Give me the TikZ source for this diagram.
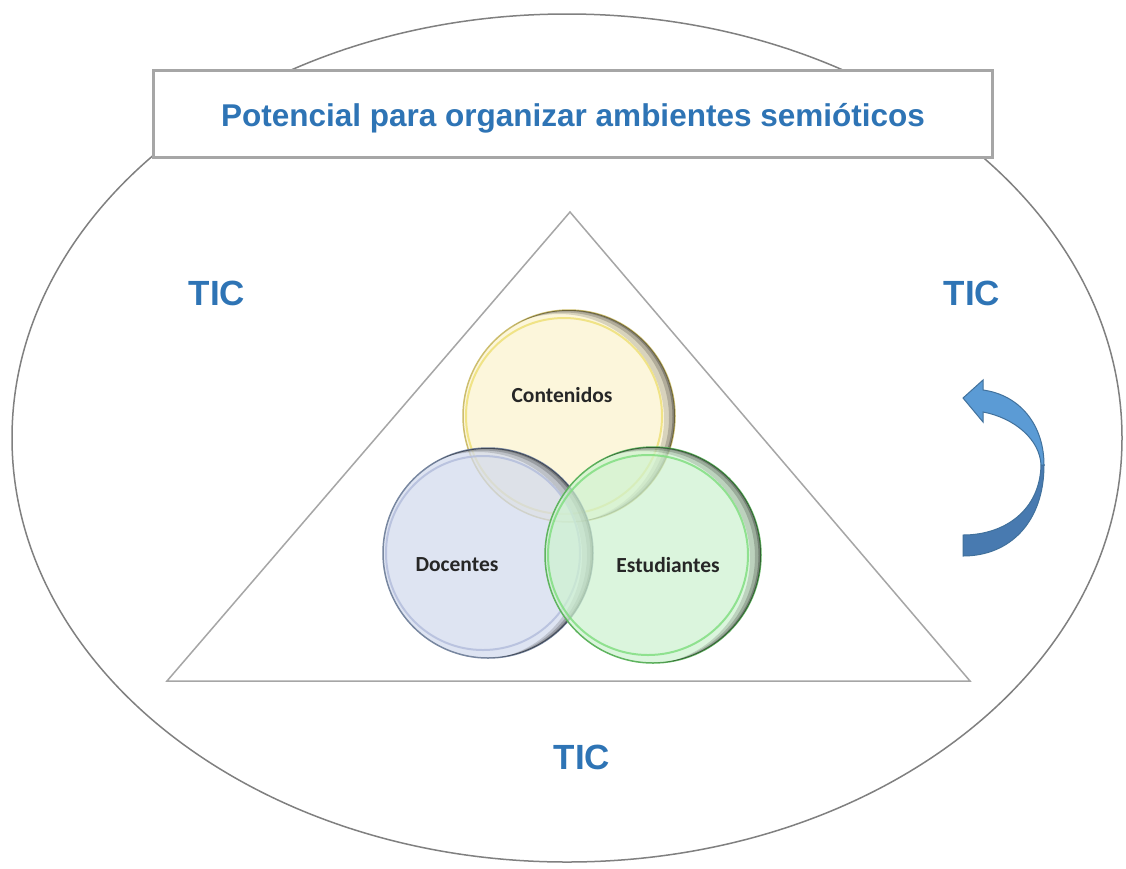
\documentclass[tikz,border=0pt]{standalone}
\usepackage{fontspec}
\setmainfont{Liberation Sans}
\newfontfamily\calib{Carlito}
\usetikzlibrary{shapes.geometric}
\definecolor{ticblue}{RGB}{46,116,181}
\definecolor{ellgray}{RGB}{128,128,128}
\definecolor{boxgray}{RGB}{166,166,166}
\definecolor{trigray}{RGB}{166,166,166}
\definecolor{yfill}{RGB}{252,243,206}
\definecolor{yring}{RGB}{238,224,120}
\definecolor{yedge}{RGB}{205,190,110}
\definecolor{bfill}{RGB}{210,218,238}
\definecolor{bring}{RGB}{180,190,220}
\definecolor{bedge}{RGB}{120,135,160}
\definecolor{gfill}{RGB}{206,242,208}
\definecolor{gring}{RGB}{130,222,130}
\definecolor{gedge}{RGB}{95,180,95}
\definecolor{arrlight}{RGB}{91,155,213}
\definecolor{arrdark}{RGB}{72,122,176}
\definecolor{arredge}{RGB}{65,113,156}
\tikzset{
  tic/.style={text=ticblue, font=\fontsize{35}{40}\selectfont\bfseries, inner sep=0},
  venn/.style={circle, inner sep=0, fill opacity=0.72, line width=1.5pt},
  vlabel/.style={font=\calib\fontsize{21.5}{25}\selectfont\bfseries, text=black!85, inner sep=0},
}
% crescent shading: #1 node name, #2 radius
\newcommand\vennshade[2]{%
  \begin{scope}
    \clip (#1.center) circle[radius=#2];
    \fill[black, opacity=0.14, even odd rule] (#1.center) circle[radius=#2+1] ([shift={(-10,-3)}]#1.center) circle[radius=#2-1];
    \fill[black, opacity=0.18, even odd rule] (#1.center) circle[radius=#2+1] ([shift={(-5,-1.5)}]#1.center) circle[radius=#2-1];
    \fill[black, opacity=0.25, even odd rule] (#1.center) circle[radius=#2+1] ([shift={(-2,-0.5)}]#1.center) circle[radius=#2-0.5];
  \end{scope}}
\begin{document}
\begin{tikzpicture}[x=1pt,y=1pt]
\useasboundingbox (0,0) rectangle (1126,-868);
\fill[white] (0,0) rectangle (1126,-868);
% outer oval
\node[ellipse, draw=ellgray, line width=1.5pt, minimum width=1110pt, minimum height=848pt, inner sep=0] (oval) at (567,-438) {};
% title box
\node[draw=boxgray, line width=3pt, fill=white, minimum width=839pt, minimum height=87pt, inner sep=0] (title) at (572.5,-113.5) {};
\node[text=ticblue, font=\fontsize{31.5}{36}\selectfont\bfseries, inner sep=0] (titletext) at (573,-118) {Potencial para organizar ambientes semióticos};
% triangle
\coordinate (apex) at (570,-212);
\coordinate (bl) at (167,-681);
\coordinate (br) at (970,-681);
\draw[trigray, line width=1.5pt] (apex) -- (bl) -- (br) -- cycle;
% TIC labels
\node[tic] (ticL) at (217,-293) {TIC};
\node[tic] (ticR) at (972,-293) {TIC};
\node[tic] (ticB) at (582,-757) {TIC};
% circles
\node[venn, fill=yfill, draw=yedge, minimum size=212pt] (cont) at (569,-416) {};
\draw[yring, line width=2pt, opacity=0.85] ([xshift=-5]cont.center) circle[radius=98];
\vennshade{cont}{106}
\node[venn, fill=bfill, draw=bedge, minimum size=210pt] (doc) at (488,-553) {};
\draw[bring, line width=2pt, opacity=0.85] ([xshift=-5]doc.center) circle[radius=97];
\vennshade{doc}{105}
\node[venn, fill=gfill, draw=gedge, minimum size=216pt] (est) at (653,-555) {};
\draw[gring, line width=2pt, opacity=0.85] ([xshift=-5]est.center) circle[radius=100];
\vennshade{est}{108}
% labels
\node[vlabel] (lcont) at (562,-395) {Contenidos};
\node[vlabel] (ldoc) at (457,-565) {Docentes};
\node[vlabel] (lest) at (668,-565) {Estudiantes};
% curved arrow
\fill[arrdark, draw=arredge, line width=1pt]
  (963,-535) .. controls (1005,-535) and (1040,-510) .. (1041,-465)
  -- (1044,-465) .. controls (1044,-522) and (1010,-556) .. (963,-556) -- cycle;
\fill[arrlight, draw=arredge, line width=1pt]
  (1041,-465) .. controls (1040,-440) and (1015,-418) .. (983,-412)
  -- (983,-422) -- (963,-398) -- (983,-380) -- (983,-390)
  .. controls (1020,-395) and (1044,-425) .. (1044,-465) -- cycle;
\end{tikzpicture}
\end{document}
